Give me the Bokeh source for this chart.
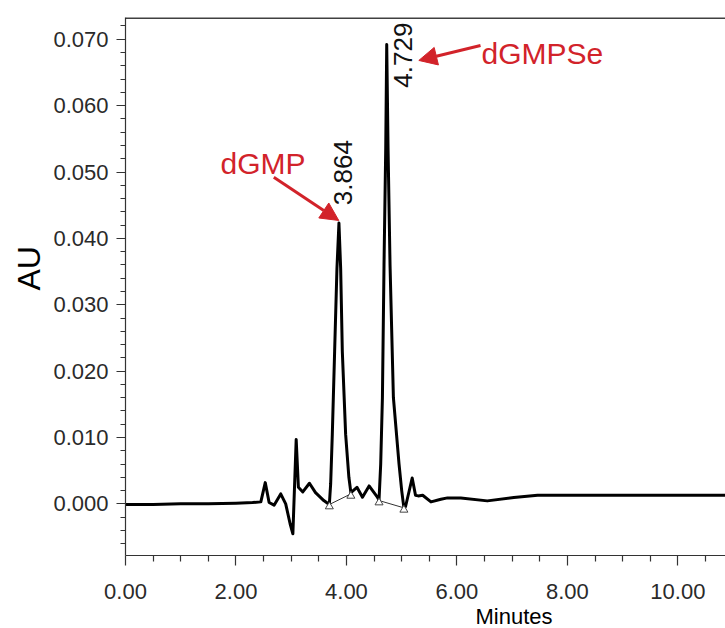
from math import pi
from bokeh.plotting import figure
from bokeh.models import (Range1d, FixedTicker, NumeralTickFormatter, Label,
                          Arrow, NormalHead, Span, Title)
from bokeh.embed import file_html
from bokeh.resources import INLINE

# ---- data ----
time_min = [0.00, 0.50, 1.00, 1.50, 2.00, 2.30, 2.45, 2.53, 2.60, 2.69,
            2.81, 2.90, 2.98, 3.03, 3.09, 3.13, 3.21, 3.33, 3.44, 3.59,
            3.69, 3.714, 3.744, 3.786, 3.828, 3.864, 3.895, 3.925, 3.985, 4.044,
            4.08, 4.19, 4.29, 4.41, 4.56, 4.59, 4.62, 4.651, 4.68, 4.711,
            4.729, 4.753, 4.789, 4.85, 4.952, 5.00, 5.04, 5.07, 5.19, 5.25,
            5.30, 5.38, 5.53, 5.71, 5.83, 6.07, 6.55, 7.03, 7.46, 8.50,
            9.50, 10.87]
absorbance = [-0.0001, -0.0001, 0.0000, 0.0000, 0.0001, 0.0002, 0.0003, 0.0032, 0.0002, -0.0002,
              0.0015, 0.0000, -0.0030, -0.0045, 0.0097, 0.0025, 0.0018, 0.0031, 0.0017, 0.0005,
              -0.0001, 0.0030, 0.0105, 0.0230, 0.0355, 0.0423, 0.0355, 0.0230, 0.0105, 0.0040,
              0.0017, 0.0025, 0.0010, 0.0027, 0.0010, 0.0006, 0.0060, 0.0160, 0.0360, 0.0536,
              0.0692, 0.0536, 0.0360, 0.0160, 0.0060, 0.0020, -0.0006, -0.0004, 0.0039, 0.0013,
              0.0012, 0.0013, 0.0003, 0.0007, 0.0009, 0.0009, 0.00045, 0.00095, 0.0013, 0.0013,
              0.0013, 0.0013]

# integration start/end markers and their baselines
marker_time = [3.69, 4.08, 4.59, 5.04]
marker_au = [-0.0004, 0.0012, 0.0002, -0.0009]
base1_time = [3.69, 4.08]
base1_au = [-0.0001, 0.0015]
base2_time = [4.59, 5.04]
base2_au = [0.0005, -0.0006]

peak_labels = ["3.864", "4.729"]
x_ticks = [0, 2, 4, 6, 8, 10]
x_minor = [0.5, 1, 1.5, 2.5, 3, 3.5, 4.5, 5, 5.5, 6.5, 7, 7.5, 8.5, 9, 9.5, 10.5]
y_ticks = [0.00, 0.01, 0.02, 0.03, 0.04, 0.05, 0.06, 0.07]
y_minor = [-0.006, -0.004, -0.002, 0.002, 0.004, 0.006, 0.008, 0.012, 0.014, 0.016, 0.018,
           0.022, 0.024, 0.026, 0.028, 0.032, 0.034, 0.036, 0.038, 0.042, 0.044,
           0.046, 0.048, 0.052, 0.054, 0.056, 0.058, 0.062, 0.064, 0.066, 0.068, 0.072]

FONT = "Liberation Sans"
RED = "#d2232a"
Y0, Y1 = -0.00778, 0.07328

p = figure(width=725, height=628, output_backend="svg", toolbar_location=None,
           x_range=Range1d(0, 10.862), y_range=Range1d(Y0, Y1),
           min_border_left=125, min_border_right=0, min_border_top=17,
           min_border_bottom=73)
p.outline_line_color = None
p.grid.visible = False
p.background_fill_color = "white"
p.border_fill_color = "white"

for ax in (p.xaxis[0], p.yaxis[0]):
    ax.axis_line_color = "#333333"
    ax.axis_line_width = 1.2
    ax.major_tick_line_color = "#333333"
    ax.minor_tick_line_color = "#333333"
    ax.major_tick_line_width = 1.2
    ax.minor_tick_line_width = 1.2
    ax.major_tick_in = 0
    ax.minor_tick_in = 0
    ax.major_label_text_font = FONT
    ax.major_label_text_font_size = "22px"
    ax.major_label_text_color = "#2a2a2a"

p.xaxis[0].ticker = FixedTicker(ticks=x_ticks, minor_ticks=x_minor)
p.xaxis[0].formatter = NumeralTickFormatter(format="0.00")
p.xaxis[0].major_tick_out = 10
p.xaxis[0].minor_tick_out = 6
p.xaxis[0].major_label_standoff = 18

p.yaxis[0].ticker = FixedTicker(ticks=y_ticks, minor_ticks=y_minor)
p.yaxis[0].formatter = NumeralTickFormatter(format="0.000")
p.yaxis[0].major_tick_out = 9
p.yaxis[0].minor_tick_out = 5
p.yaxis[0].major_label_standoff = 8

# axis titles placed like the original (off-centre)
p.add_layout(Title(text="Minutes", align="left", offset=350, standoff=0,
                   text_font=FONT, text_font_size="22px", text_font_style="normal",
                   text_color="black"), "below")
p.add_layout(Title(text="AU", align="left", offset=265, standoff=8,
                   text_font=FONT, text_font_size="32px", text_font_style="normal",
                   text_color="black"), "left")

# top frame line
p.add_layout(Span(location=0.07322, dimension="width", line_color="black", line_width=1.5))

# trace
p.line(time_min, absorbance, line_color="black", line_width=3, line_join="round")
# baselines and markers
p.line(base1_time, base1_au, line_color="#333333", line_width=1)
p.line(base2_time, base2_au, line_color="#333333", line_width=1)
p.scatter(marker_time, marker_au, marker="triangle", size=8,
          fill_color="white", line_color="#444444", line_width=1)

# peak retention-time labels (rotated)
p.add_layout(Label(x=3.937, y=0.0450, text=peak_labels[0], angle=pi / 2,
                   text_align="left", text_baseline="middle",
                   text_font=FONT, text_font_size="26px", text_color="#111111"))
p.add_layout(Label(x=5.024, y=0.0627, text=peak_labels[1], angle=pi / 2,
                   text_align="left", text_baseline="middle",
                   text_font=FONT, text_font_size="26px", text_color="#111111"))

# compound annotations
p.add_layout(Label(x=1.720, y=0.05129, text="dGMP", text_align="left",
                   text_baseline="alphabetic", text_font=FONT,
                   text_font_size="30px", text_color=RED))
p.add_layout(Label(x=6.445, y=0.06782, text="dGMPSe", text_align="left",
                   text_baseline="alphabetic", text_font=FONT,
                   text_font_size="30px", text_color=RED))
p.add_layout(Arrow(x_start=2.685, y_start=0.04922, x_end=3.861, y_end=0.04270,
                   line_color=RED, line_width=3,
                   end=NormalHead(size=18, fill_color=RED, line_color=RED)))
p.add_layout(Arrow(x_start=6.427, y_start=0.06907, x_end=5.310, y_end=0.06681,
                   line_color=RED, line_width=3,
                   end=NormalHead(size=18, fill_color=RED, line_color=RED)))

open("out.html", "w").write(file_html(p, INLINE))
